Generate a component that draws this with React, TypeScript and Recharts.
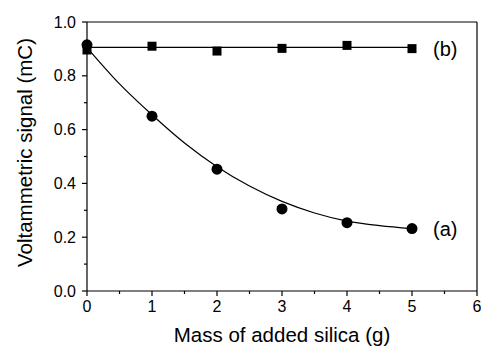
import { ComposedChart, Line, Scatter, XAxis, YAxis, ReferenceLine, ReferenceDot, Label } from 'recharts'

const mass = [0, 1, 2, 3, 4, 5]
const signalA = [0.915, 0.65, 0.453, 0.305, 0.254, 0.232]
const signalB = [0.896, 0.91, 0.892, 0.902, 0.913, 0.901]

// fitted curves
const fitMassA = [0, 0.5, 1, 1.5, 2, 2.5, 3, 3.5, 4, 4.5, 5]
const fitA = [0.905, 0.77, 0.655, 0.55, 0.462, 0.39, 0.333, 0.29, 0.26, 0.243, 0.232]
const fitMassB = [0, 5]
const fitB = [0.906, 0.906]

const xTicks = [0, 0.5, 1, 1.5, 2, 2.5, 3, 3.5, 4, 4.5, 5, 5.5, 6]
const yTicks = [0, 0.1, 0.2, 0.3, 0.4, 0.5, 0.6, 0.7, 0.8, 0.9, 1.0]

const pointsA = mass.map((x, i) => ({ x, y: signalA[i] }))
const pointsB = mass.map((x, i) => ({ x, y: signalB[i] }))
const curveA = fitMassA.map((x, i) => ({ x, y: fitA[i] }))
const curveB = fitMassB.map((x, i) => ({ x, y: fitB[i] }))

const font = 'Liberation Sans, Arial, sans-serif'

const XTick = (props: any) => {
  const { x, y, payload } = props
  const major = Number.isInteger(payload.value)
  return (
    <g>
      <line x1={x} x2={x} y1={y - 8} y2={y - 8 + (major ? 5 : 3)} stroke="#000" strokeWidth={1.2} />
      {major && (
        <text x={x} y={y + 13} textAnchor="middle" fontSize={16} fontFamily={font} fill="#000">
          {payload.value}
        </text>
      )}
    </g>
  )
}

const YTick = (props: any) => {
  const { x, y, payload } = props
  const major = Math.round(payload.value * 10) % 2 === 0
  return (
    <g>
      <line x1={x + 8} x2={x + 8 - (major ? 5 : 3)} y1={y} y2={y} stroke="#000" strokeWidth={1.2} />
      {major && (
        <text x={x - 3} y={y + 5.5} textAnchor="end" fontSize={16} fontFamily={font} fill="#000">
          {payload.value.toFixed(1)}
        </text>
      )}
    </g>
  )
}

const Square = (props: any) => {
  const { cx, cy } = props
  return <rect x={cx - 4.5} y={cy - 4.5} width={9} height={9} fill="#000" />
}

const Dot = (props: any) => {
  const { cx, cy } = props
  return <circle cx={cx} cy={cy} r={5.5} fill="#000" />
}

export default function App() {
  return (
    <div style={{ position: 'absolute', left: 0, top: 0, background: '#fff' }}>
      <ComposedChart width={481} height={346} margin={{ top: 22, right: 4, bottom: 0, left: 0 }}>
        <XAxis
          type="number"
          dataKey="x"
          domain={[0, 6]}
          ticks={xTicks}
          interval={0}
          height={55}
          stroke="#000"
          strokeWidth={1.2}
          tickLine={false}
          tick={<XTick />}
        >
          <Label value="Mass of added silica (g)" position="center" dy={16} fontSize={20.5} fontFamily={font} fill="#000" />
        </XAxis>
        <YAxis
          type="number"
          dataKey="y"
          domain={[0, 1]}
          ticks={yTicks}
          interval={0}
          width={87}
          stroke="#000"
          strokeWidth={1.2}
          tickLine={false}
          tick={<YTick />}
        >
          <Label value="Voltammetric signal (mC)" angle={-90} position="center" dx={-19} dy={-4} fontSize={20.5} fontFamily={font} fill="#000" />
        </YAxis>
        <ReferenceLine y={1} stroke="#000" strokeWidth={1.2} />
        <ReferenceLine x={6} stroke="#000" strokeWidth={1.2} />
        <Line data={curveA} dataKey="y" type="monotone" stroke="#000" strokeWidth={1.2} dot={false} isAnimationActive={false} />
        <Line data={curveB} dataKey="y" type="linear" stroke="#000" strokeWidth={1.2} dot={false} isAnimationActive={false} />
        <Scatter data={pointsB} dataKey="y" shape={<Square />} isAnimationActive={false} />
        <Scatter data={pointsA} dataKey="y" shape={<Dot />} isAnimationActive={false} />
        <ReferenceDot x={mass[5]} y={signalA[5]} r={0} stroke="none">
          <Label value="(a)" position="right" offset={21} fontSize={20} fontFamily={font} fill="#000" />
        </ReferenceDot>
        <ReferenceDot x={mass[5]} y={signalB[5]} r={0} stroke="none">
          <Label value="(b)" position="right" offset={21} fontSize={20} fontFamily={font} fill="#000" />
        </ReferenceDot>
      </ComposedChart>
    </div>
  )
}
